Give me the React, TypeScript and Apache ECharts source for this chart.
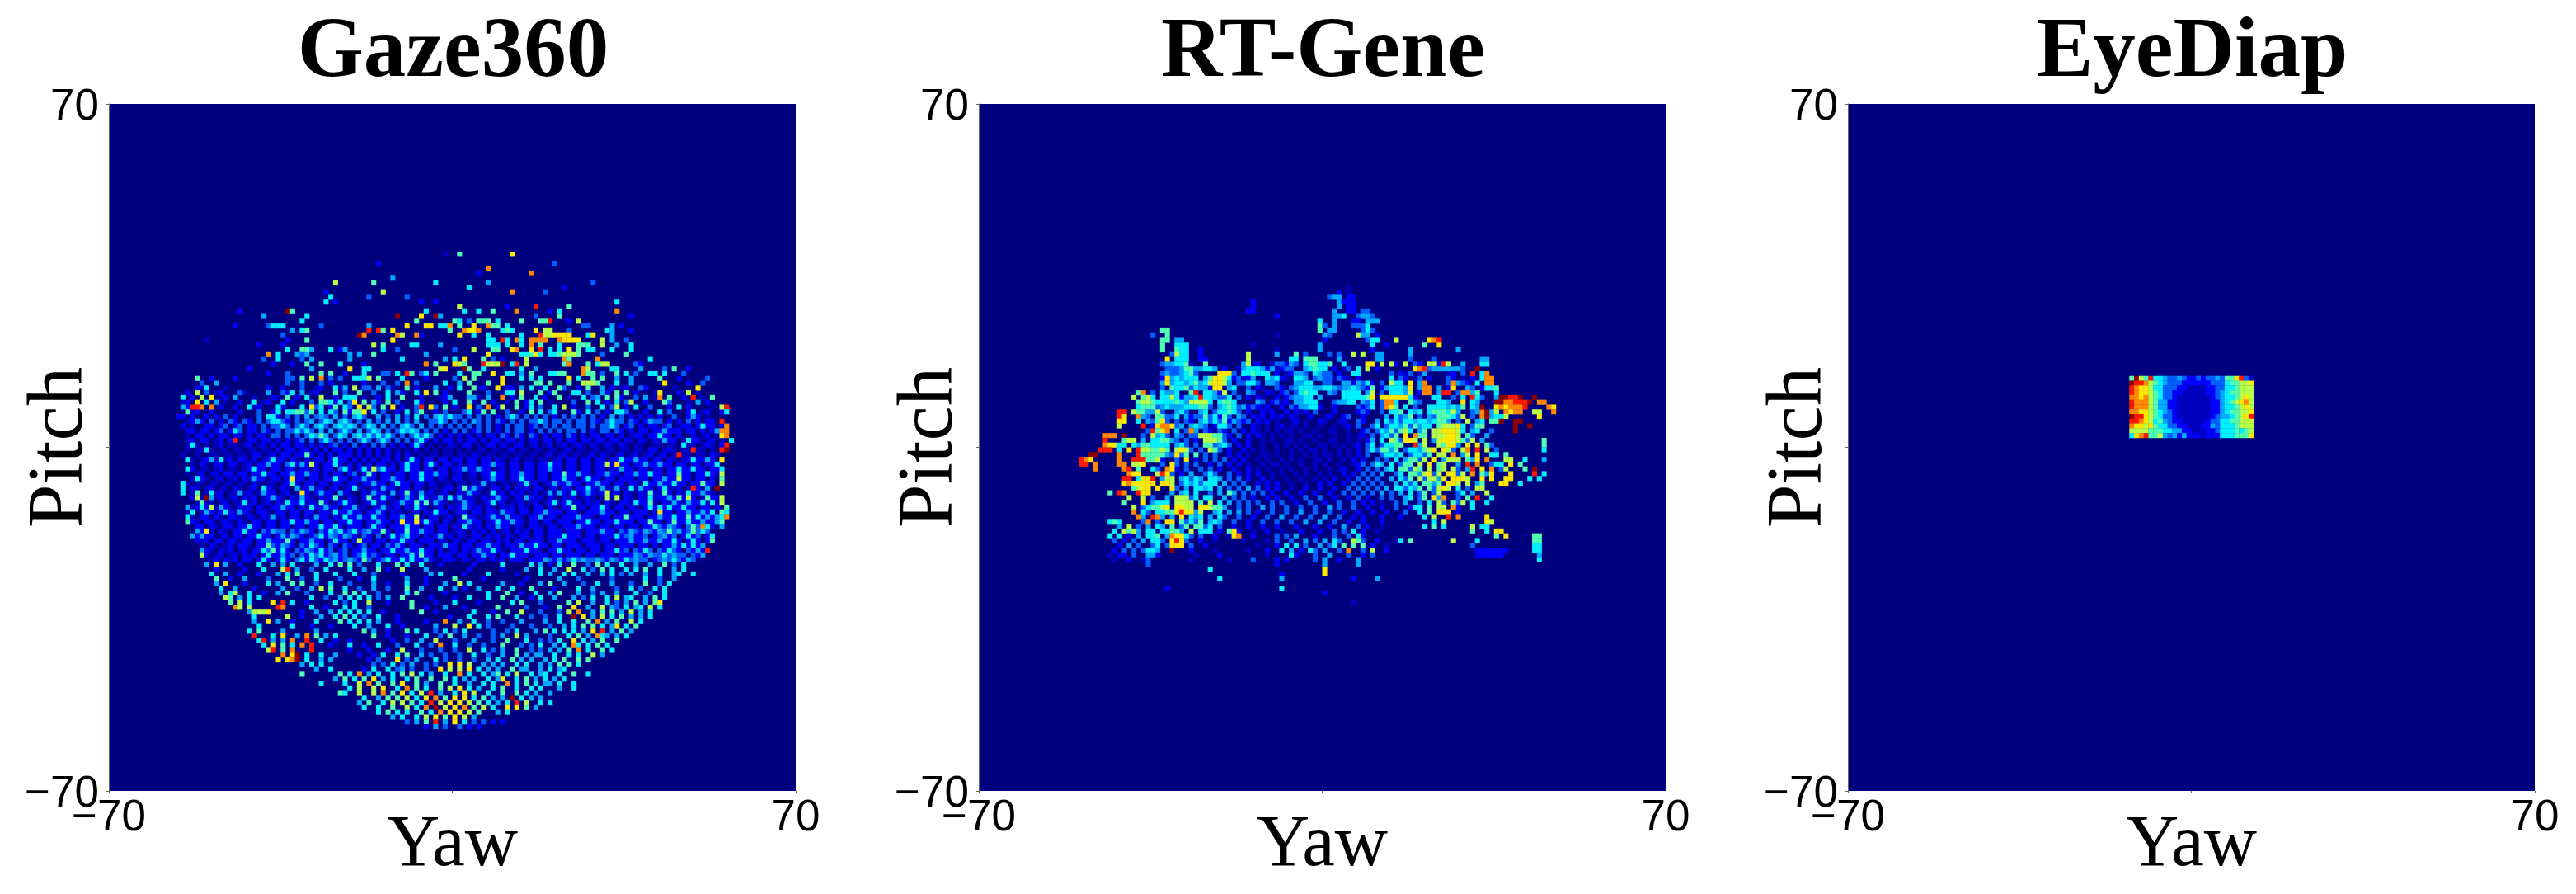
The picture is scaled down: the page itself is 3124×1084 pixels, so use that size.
import React, { useEffect, useRef } from "react";
import * as echarts from "echarts";

const titles = ["Gaze360", "RT-Gene", "EyeDiap"];
const BINS = 144;
const lefts = [132, 1187, 2241];
const sizeW = 833;
const top = 126;
const jet = ["#00007f","#0000c0","#0000ff","#0060ff","#00a8ff","#00f0ff","#50ffb0","#b8ff48","#ffe800","#ff8800","#ff1800","#8c0000"];

// Level per bin: "row|col:levels col:levels"
// (0 = empty, 1..9,a,b = jet steps). The outline and bright cells follow the zoomed crops; the dense
// dim blue texture in the *Base lists is an approximation of each region, not a cell-exact reading.
const eyeDiapRows = [
  "57|59:6b76a554334322323343668a31",
  "58|59:baa97654333222222333566778",
  "59|59:a9887553332211112233556777",
  "60|59:a9887653322111112234566777",
  "61|59:99897653321111111234556787",
  "62|59:a9997644221111111224567897",
  "63|59:a9997644221111111224556787",
  "64|59:99887654321111111224566778",
  "65|59:baa8765332111111123445678a",
  "66|59:aa987564322111112335566777",
  "67|59:98878655332211122435556777",
  "68|59:77776665544221112235556567",
  "69|59:589a6674342422212225556668",
];

const rtGeneBase = [
  "54|55:20120013021 70:3203 84:2012010320102",
  "55|40:3012 48:2102 54:1 60:201203 74:2013020102 94:301203",
  "56|38:30124 50:2013 56:2 62:20121030120102 86:302130120 98:1203",
  "57|38:2034 44:30 52:323124 60:32021 68:3 72:20132102 88:3201302 98:320102",
  "58|38:403 42:2 54:320 58:2 62:3 66:3 68:4 72:33 78:24302 84:3 92:42 98:3 100:4320",
  "59|38:3023 44:3 48:2 52:43 56:3021 62:32 68:4 76:2 79:432 84:24 92:43 96:4023 102:4302",
  "60|36:30 40:2 44:3 49:42 53:3 56:43 60:2102 64:3 73:43 81:4 84:30 89:3 92:2 96:4 100:3 103:40",
  "61|36:3 42:24 51:34 54:302 58:21 62:202 65:3 71:4 84:3 90:42 96:4 99:30 105:3 108:4",
  "62|44:2 48:4 58:4302 62:3120 70:3 74:3 80:43 84:30 91:43 98:40 104:4",
  "63|37:3 42:4 48:3 54:342 57:32120 63:2 65:323 71:2 74:2 79:323 84:30 91:3 98:4 100:4 104:4",
  "64|36:4 38:30 41:4 43:30 49:3 54:3 56:2 59:212 64:2 66:212 70:3 74:2 79:232 84:3 87:4 91:4 100:4 103:343 107:4",
  "65|35:3 40:3 43:423 46:32 48:3 50:2 52:3 54:43 57:212 61:2120 65:21 69:2 72:12 76:23 80:2 85:4 88:34 92:3 94:43 100:34 103:3 107:4",
  "66|35:43 39:3 41:3 43:32 46:4 48:3 50:3 52:24 54:323 58:212 62:10 65:12 68:1 71:21 75:12 79:32 83:4 86:3 88:3 91:4 94:4 98:4 100:3 104:4",
  "67|36:2 41:34 44:4 47:3 49:2 52:3 54:3 57:21 60:1 62:12 65:11 68:10 71:1 74:1 76:12 79:3 82:3 85:3 88:4 90:3 92:4 100:3 103:3",
  "68|35:32 43:3 45:4 47:32 50:32 53:3 55:2 57:21 60:1 62:1 64:11 67:1 70:1 73:11 77:1 80:23 83:3 85:4 87:3 92:4 101:3 103:4 107:3",
  "69|34:3 37:4 39:3 41:43 44:3 45:3 51:32 54:3 56:2 58:21 61:1 63:1 65:1 68:11 71:1 74:1 77:1 79:12 82:3 84:4 86:3 92:3 100:4 103:3 106:4",
  "70|34:4 40:43 43:3 45:2 51:3 53:2 56:2 59:1 61:1 64:11 67:1 70:1 73:11 77:1 79:1 81:23 86:4 88:3 95:4 102:3 105:4",
  "71|33:4 41:4 43:3 45:3 49:3 52:3 54:2 56:2 59:1 62:1 64:1 66:1 68:1 71:11 74:1 76:1 78:12 81:3 84:3 92:4 100:4 107:3",
  "72|39:3 44:3 46:3 50:3 52:2 55:2 57:1 59:1 62:1 65:1 67:1 69:11 72:1 75:1 77:1 79:2 81:3 83:3 86:4 89:3 92:4 99:3 108:3",
  "73|39:4 40:3 42:3 47:3 49:3 52:2 54:2 56:1 59:11 62:1 65:1 68:1 70:1 72:11 75:1 77:1 79:2 81:3 84:3 87:4 90:3 93:3 101:4",
  "74|38:2 41:3 43:3 45:2 47:3 49:3 51:3 53:2 55:2 58:1 60:1 63:1 65:1 67:1 70:11 73:1 76:1 78:2 80:2 83:3 85:3 89:4 92:3 97:4 100:3 103:4",
  "75|38:3 41:3 43:3 45:3 48:2 50:3 52:2 54:2 56:1 59:1 61:11 64:1 67:1 70:1 72:1 75:1 78:12 80:3 82:3 84:4 88:3 100:4 107:3",
  "76|37:3 41:2 43:3 46:3 48:3 50:2 53:2 56:2 58:1 60:1 63:1 65:1 68:1 70:1 73:1 75:12 79:2 81:3 83:3 85:4 90:3 100:3 102:4 109:3",
  "77|40:3 42:2 44:4 47:3 49:3 52:3 54:2 56:2 58:2 61:1 63:1 66:1 68:1 71:1 73:1 76:2 78:2 80:3 82:3 84:4 87:3 92:4 95:3 100:3 106:4",
  "78|40:3 42:4 44:3 46:4 50:4 52:3 54:3 56:2 59:2 61:1 64:1 67:1 70:1 72:1 74:2 77:2 79:3 81:3 83:3 86:4 89:3 93:3 96:4 101:3",
  "79|40:4 42:3 44:4 46:3 51:4 53:3 55:3 58:2 60:2 62:2 65:1 68:1 71:2 73:2 76:2 78:3 80:3 82:3 84:3 87:4 90:3 95:4 100:3 104:4",
  "80|41:3 43:4 47:4 50:4 52:3 54:3 56:4 58:3 60:2 62:2 65:1 68:2 71:2 74:2 77:3 79:3 81:3 83:3 85:4 89:3 91:4 95:3 102:3",
  "81|40:4 42:4 48:3 50:4 53:4 55:3 57:3 59:3 61:2 64:2 67:2 70:2 73:2 76:3 78:3 80:3 82:3 84:4 86:3 88:4 92:3 95:3 100:3 103:4",
  "82|36:3 39:4 44:3 51:4 53:3 55:3 57:2 60:2 62:2 65:2 68:3 71:3 74:2 77:2 79:3 81:2 84:3 86:3 89:4 92:3 96:4 100:3",
  "83|36:4 38:5 44:4 52:4 54:3 56:3 58:3 61:3 63:3 66:2 69:3 72:2 75:3 78:3 80:2 82:2 84:1 87:3 89:4 92:3 97:3 100:3",
  "84|34:3 37:4 44:5 51:4 54:3 56:3 59:4 61:3 64:3 67:3 70:3 73:4 75:3 78:3 81:2 84:2 87:3 90:2 100:2",
  "85|35:3 37:4 45:4 49:4 52:4 54:4 56:3 58:2 61:3 64:3 67:4 70:3 73:3 76:2 79:2 82:2 85:2 89:3 100:2",
  "86|34:4 38:4 40:4 45:4 48:4 51:3 54:3 57:2 60:3 63:4 66:3 69:3 72:4 75:3 78:2 80:2 84:2 88:2",
  "87|34:3 37:3 40:4 43:3 45:3 48:4 50:4 53:3 56:2 59:3 62:3 65:3 68:4 71:4 74:3 77:2 80:2 84:2",
  "88|33:3 35:4 38:4 42:3 47:3 50:3 53:2 56:2 59:2 62:2 66:2 70:2 73:2 76:4 79:3 81:2 84:1",
  "89|31:3 33:4 36:4 42:4 47:3 50:2 54:2 57:1 60:2 63:1 67:2 71:2 74:3 76:3 80:2 83:1",
  "90|31:2 33:4 36:3 39:4 44:3 46:3 49:2 52:1 57:2 62:3 64:3 66:4 70:2 74:3 77:3 80:2",
  "91|30:2 32:3 34:4 38:3 43:3 46:2 49:1 55:1 60:1 62:3 65:3 68:4 70:3 75:3 80:3 83:2 87:1",
  "92|29:2 31:4 33:4 36:3 39:3 44:3 47:2 58:1 62:2 68:3 71:4 73:3 82:2 85:1",
  "93|28:2 30:3 32:3 34:3 37:4 44:2 49:1 56:1 60:2 67:2 70:3 75:3 80:3 85:2",
  "94|27:1 29:2 32:3 37:2 45:1 50:2 60:1 66:2 70:3 77:3 80:2",
  "95|28:1 31:2 34:1 44:1 52:1 64:2 70:3 75:2",
];

const rtGeneRows = [
  "38|77:1","39|75:2 77:1","40|73:344 77:22","41|57:2 75:4 76:222","42|57:2 75:4 77:22",
  "43|56:22 74:4 77:22 80:33","44|62:2 74:44 76:5 79:344 82:3","45|71:5 74:4 78:22 81:44 83:4",
  "46|71:6 72:3 74:4 78:3335 81:5","47|38:66 71:6 73:44 80:3 81:5 82:3","48|36:3 39:6 62:1 72:43 79:7 80:44 83:2",
  "49|38:66 41:44 72:2 81:3 82:55 87:7 94:89a","50|38:6 41:555 57:1 71:4 82:5 85:2 93:6 96:8","51|38:6 41:655 46:2 62:1 71:4 82:2 90:4 100:4",
  "52|40:3755 46:2 56:7 62:4 66:6 68:3 73:3 75:3 78:7 80:7 83:44 90:4",
  "53|39:8 41:555 46:22 56:7 65:55 68:666 75:4 83:44 90:3 95:3 105:44",
  "54|38:3445561 47:6 55:47 62:33 65:43 68:56 70:6556 76:5 81:88 84:7 86:7 89:7 94:77 97:a7 101:4 105:55",
  "55|39:33346644554 55:45554 61:4 64:3 68:45 70:655 79:5 81:7 91:89a 95:4444443 104:b",
  "56|39:4334563 50:888 55:556555 66:44 70:5433 78:55 93:4 103:a 105:5 106:9",
  "57|39:8454555 47:468875 60:545 66:554 70:3433 86:5 105:5 106:99",
  "58|39:84554564578874 55:3553 60:44 66:4455 76:44 81:5 86:755 90:8 93:9 99:9 104:5 106:99",
  "59|40:65563 45:544 49:88 53:5 65:34555 70:445543 76:445 82:6 86:5554 90:8 93:99 99:8 106:55 108:6",
  "60|33:6 34:9 38:5445 44:6 45:a 47:55 51:7 66:35655 76:5555 82:7 86:5554 90:7 93:99 97:aa 101:99 104:6 108:5",
  "61|32:7 34:675 38:557 41:5 44:45a 47:5543 52:5 66:4455 76:555556 82:8 84:888888 90:5 95:55 101:5 103:a5 109:bbaab 116:b",
  "62|33:67765 38:555654 44:7 45:7775 50:566 53:5 66:44555 75:4455 82:5 85:99 87:5 90:6 96:55 101:8 103:5 108:bb 110:99aaa 115:b 117:99",
  "63|33:56663 38:4544 43:55 45:566 50:4565 67:4455 82:5 85:98 87:6 89:5 94:5555 99:5 101:6 103:5 105:b 108:89899 113:9a 119:98",
  "64|29:aa 32:7664 37:7 42:5 46:45 50:5565 86:55 88:6 90:5 92:5 94:56665 99:7 105:9b 108:7 110:9899 116:77 120:9",
  "65|29:a8 33:94 37:663 41:5 47:6 49:5 51:6 87:5 90:6 96:6665 101:7 105:9 106:b 108:55 110:7 117:8",
  "66|29:88 33:5 37:68 47:5 49:5 51:6 85:5 87:5 89:55 92:55 95:566 102:7 105:5 107:66 109:b 112:bb",
  "67|29:7 34:a 37:8998 45:54 50:55 83:5 86:55 89:6 91:6 93:55 96:67778 101:5 104:66 112:b 115:b",
  "68|36:a6 38:89 41:5 44:9 84:5 86:6 88:67 90:5 93:6 95:778887 101:5 104:5 112:b",
  "69|26:999 30:b 36:7 38:5 46:77766 85:5 87:6 89:8 91:96 93:6 95:777887 102:6",
  "70|26:a 30:677 36:5566 47:7776 82:4 84:5 86:76 89:88 91:7 93:7 96:788876 103:7 118:6",
  "71|26:988 29:55 32:5 34:665555 42:5 47:66 50:45 82:5 85:55 87:66 91:a 93:7 96:7688 102:8 104:8 106:6 118:6",
  "72|25:aaa 29:5 31:8 33:a 34:776676 41:787 48:76 82:5 84:66 87:6 90:55 93:67 95:8 97:87 101:79 104:a 106:7 118:5",
  "73|23:bb 29:9 33:a 34:66666 41:8 43:6 45:6 85:55 88:5 91:55 94:6 96:77 99:9 102:7 104:8 107:55 110:6",
  "74|21:a98 29:9 32:aaa 35:667 43:8 87:5 90:66 93:7 95:8 98:777 102:6 104:8 106:9 110:7 111:7 114:5 118:4",
  "75|21:aa 24:9 29:99 32:778 40:8 83:5 86:5 89:66 92:7 94:8 96:67 102:a 104:9 108:55 111:8 113:6",
  "76|24:9 30:9a 33:6 36:5 39:98 86:5 88:66 91:76 94:7 96:67 99:7 103:a 105:8 107:9 110:7 114:6 116:b",
  "77|31:988 37:7 38:a8 48:5 88:5 90:66 93:78 96:7 98:88 101:7 103:9 105:6 107:8 111:8 116:a 118:5",
  "78|30:aa 33:5 34:88 36:a 38:477 43:5 45:5 48:55 88:5 90:6 92:7 94:77 97:8 99:888 102:7 105:8 107:8 110:88 115:5 117:5",
  "79|30:8988888 38:887 43:5 45:5 47:555 89:5 91:5 93:66 96:6 98:887 102:7 105:6 109:88 113:5",
  "80|32:6788 37:8 40:8 45:55 48:5 87:55 90:5 92:6 94:6 96:78 98:7 100:5 104:77",
  "81|27:6 29:a9 33:a 34:88 43:5 45:5 52:6 90:5 93:6 96:7 101:5 106:7",
  "82|31:7 34:7 41:777 45:5 47:55 90:5 93:6 95:8 97:9 102:6 104:a 107:5",
  "83|30:6 34:8 37:5 39:5 41:7777 46:6 48:7 50:5 94:5 96:7 99:6 101:7 103:5 106:5",
  "84|32:7 35:566 38:78 41:8877 46:88 48:766 91:55 94:6 96:77 99:9 103:5",
  "85|32:9 34:5 37:55 39:66 41:8a8 44:8 46:7 50:5 92:5 94:6 96:88 98:8",
  "86|33:9 36:a9 42:8 44:5 46:5 50:5 93:5 95:7 98:a 100:9 106:8",
  "87|27:565 35:9 39:88 42:6 44:5 46:6 49:5 95:5 97:7 106:8 107:7",
  "88|29:4 31:7 37:5 40:6 43:6 45:66 48:5 93:5 95:6 97:5 103:7 105:55",
  "89|28:5 30:767 35:55 38:5566 44:7 46:55 48:5 52:6 53:8 78:5 103:6 106:5 108:8 109:8",
  "90|27:5 29:5 35:55 37:6 40:988 43:5 53:8 54:9 79:5 108:6 110:8 116:66",
  "91|28:3 36:55 40:8a8 72:4 74:5 78:7 79:6 88:5 90:6 99:7 104:5 116:6 117:6",
  "92|33:3 37:5 40:888 64:5 66:5 74:5 76:6 78:6 80:6 103:3 116:5 117:5",
  "93|35:55 40:b 63:5 65:4 69:5 72:4 77:9 82:7 104:2222222 116:5 117:5",
  "94|30:2 35:44 65:5 73:4 82:3 104:222222 117:4",
  "95|35:3 57:3 62:2 72:4 79:4 117:5","96|35:3 62:2 72:4 79:4","97|48:5 72:8","98|63:2 72:8",
  "99|50:5 63:4 78:2 83:4","101|39:2 63:5","102|72:2","104|78:1",
];

const gazeBase = [
  "59|18:21 24:1 43:12 48:1 59:1 62:1 71:1 77:1 90:12 95:3 98:2 105:2 107:12 112:2 118:1",
  "60|16:2 22:12 28:1 37:2 42:12 49:1 61:2 66:1 75:1 82:1 92:2 98:3 104:2 110:2 114:1 119:2 123:1",
  "61|15:1 17:2 23:12 30:1 35:1 39:2 47:2 53:1 56:2 65:2 69:12 77:1 84:2 91:2 96:1 101:3 107:2 110:3 114:12 120:2 124:1",
  "62|15:12 24:1 27:2 32:12 38:2 42:3 47:2 50:3 56:2 60:3 65:2 70:2 76:1 80:2 83:1 87:2 92:1 97:3 104:2 108:3 112:2 117:3 121:1 125:2",
  "63|16:2 23:2 26:2 30:12 36:2 43:3 46:2 50:3 55:3 61:2 64:3 68:3 72:2 77:3 81:2 87:2 90:3 97:2 100:3 105:3 108:2 113:3 117:2 121:2 126:1",
  "64|17:12 21:2 27:2 31:3 34:2 41:3 47:3 50:2 55:3 57:3 60:2 64:3 68:2 70:3 74:3 77:2 83:3 86:2 92:3 98:2 102:3 104:2 108:3 112:2 117:3 121:2 124:12 128:2",
  "65|15:2 17:2 20:2 22:2 24:3 26:2 31:3 35:2 37:3 39:3 41:4 43:3 45:3 47:4 49:3 51:4 53:3 56:4 58:3 60:4 62:3 66:3 68:4 70:3 72:3 73:3 75:3 77:3 79:3 81:2 83:3 85:3 87:3 89:3 91:3 93:2 95:3 97:3 99:3 101:3 103:2 105:3 107:3 109:2 111:2 113:2 115:2 118:3 121:2 123:2 125:1",
  "66|16:12 19:2 21:3 23:2 25:3 26:2 28:3 29:2 31:3 33:3 36:3 37:2 39:3 41:3 42:4 44:3 46:4 48:4 50:3 52:3 54:4 56:3 58:4 60:4 62:3 64:4 67:3 68:3 70:3 72:3 74:3 76:4 77:3 79:3 81:3 82:2 84:3 86:3 88:3 89:3 91:3 93:3 94:3 96:3 98:3 99:3 101:3 102:2 104:3 106:3 107:3 109:3 110:2 112:2 114:3 115:3 117:2 119:2 121:3 123:2 125:2 126:2",
  "67|15:2 17:1 20:2 21:2 23:2 24:3 26:2 27:3 29:2 30:2 32:3 34:3 35:3 37:3 39:3 41:3 43:4 45:3 47:4 49:4 51:4 53:3 55:4 57:4 59:3 61:4 63:3 65:4 67:3 69:3 71:3 73:3 75:3 77:3 79:3 81:2 83:3 85:3 86:3 88:2 89:3 91:3 93:3 95:3 96:3 98:3 99:3 101:3 103:3 104:3 106:3 108:2 109:3 111:2 113:2 114:2 116:2 117:3 119:1 120:2 121:2 123:2 125:2 126:2 128:2",
  "68|16:2 17:2 19:2 20:2 22:2 23:3 25:2 27:3 29:2 30:2 32:3 33:2 35:3 37:3 38:3 40:3 42:3 44:4 46:4 48:3 50:3 52:4 54:3 56:4 58:3 60:3 62:4 64:4 66:3 68:3 70:2 72:3 74:3 76:2 77:3 79:3 81:2 83:3 85:3 86:3 88:2 90:3 92:3 94:3 96:3 97:3 99:3 101:2 103:3 104:3 106:3 107:2 109:2 111:2 112:2 114:2 115:2 117:2 118:2 119:2 121:2 122:2 124:2 126:2",
  "69|16:1 18:2 19:2 21:2 23:2 24:2 26:2 27:2 29:2 31:2 32:2 34:3 35:3 37:3 39:3 41:3 43:4 45:4 47:3 49:4 51:4 53:3 55:3 57:3 59:3 61:3 63:3 65:3 67:3 69:2 71:2 73:2 75:2 77:2 79:2 80:2 82:3 83:2 85:3 86:2 88:3 89:2 91:2 93:2 94:2 96:3 97:2 99:2 101:2 102:2 104:2 105:2 107:2 109:1 110:2 111:2 113:2 114:2 116:2 117:2 119:2 122:2 124:1 125:2 127:1",
  "70|16:1 17:2 19:2 20:2 22:1 23:2 25:2 26:2 29:2 30:2 32:2 33:2 35:2 37:2 39:2 40:3 42:3 44:3 46:3 48:3 50:3 52:3 54:3 56:3 58:3 60:3 62:3 64:3 66:2 68:2 70:2 71:2 73:2 75:2 76:2 78:2 80:2 81:2 83:2 84:2 86:2 88:2 89:2 91:2 92:2 94:2 96:2 97:2 99:2 100:2 102:2 103:2 105:2 106:2 108:2 109:1 111:2 112:1 114:2 115:1 117:2 118:2 120:1 122:2 123:2 125:1 126:2 128:1",
  "71|16:1 18:1 20:1 22:1 23:2 25:1 26:1 28:1 29:2 31:1 32:2 34:2 36:2 37:2 39:2 40:2 42:2 44:2 46:2 47:3 49:2 51:3 53:2 55:3 57:3 59:2 61:2 63:2 65:2 67:1 69:1 71:2 72:1 74:2 75:2 77:1 79:2 80:2 82:2 83:1 85:2 86:2 88:1 89:2 91:1 92:2 94:1 95:2 97:1 98:2 99:1 101:2 102:1 104:2 105:1 107:2 108:1 110:1 111:1 114:1 115:1 117:1 118:1 121:1 122:1 124:1 125:2 126:1 128:2",
  "72|16:1 18:1 19:1 21:1 23:1 24:1 26:1 27:1 29:1 30:1 32:1 33:1 35:2 37:2 38:2 40:2 41:2 43:2 45:2 47:2 48:2 50:2 52:2 54:2 56:2 58:2 60:1 62:1 64:2 66:1 68:1 70:1 71:1 73:1 75:1 77:1 78:1 80:1 81:1 83:1 84:2 86:1 87:1 89:1 90:1 92:1 93:1 95:1 96:2 98:1 99:1 101:1 102:1 104:1 105:1 107:1 108:1 110:1 111:1 113:2 114:2 116:1 117:2 118:1 120:1 121:1 123:1 124:1 126:1",
  "73|15:1 18:1 21:1 22:1 24:1 25:1 27:1 28:1 30:2 31:2 33:1 34:2 36:2 37:2 39:2 40:2 42:2 44:2 46:2 48:2 49:2 50:2 52:2 54:2 56:2 58:2 60:2 62:2 63:1 65:1 67:1 68:1 70:1 71:1 73:1 74:1 76:2 77:1 79:1 80:1 82:1 83:1 85:1 86:1 88:1 89:1 91:1 92:2 94:1 95:2 97:1 98:1 100:1 101:2 103:2 104:1 106:1 107:2 109:1 110:2 112:1 113:2 115:1 116:2 118:1 120:1 121:1 123:1 124:1 126:2 127:1",
  "74|17:1 19:1 20:2 22:1 24:1 25:2 27:2 28:2 30:2 32:1 33:2 35:2 36:2 38:2 39:1 41:2 43:2 44:2 46:2 48:2 49:2 51:2 53:2 55:2 57:2 58:2 60:2 62:2 64:2 66:2 67:2 69:2 70:2 72:2 73:2 75:2 76:2 78:2 79:2 81:2 82:1 84:1 85:2 87:1 88:1 90:1 91:1 93:1 94:2 96:2 97:2 99:2 100:2 102:2 103:2 105:2 106:2 108:2 109:2 111:2 112:2 114:2 115:2 117:2 118:1 120:1 121:2 123:2 124:2 126:2",
  "75|17:1 19:2 20:1 22:2 23:2 25:2 26:2 28:1 29:2 31:2 32:2 34:2 35:2 37:3 39:2 41:2 43:2 45:2 46:2 48:2 50:2 52:2 54:2 56:2 57:2 59:2 61:2 63:2 64:2 66:2 68:2 70:2 71:2 73:2 75:2 76:2 78:2 79:2 81:2 82:2 84:2 85:2 87:2 88:2 90:2 91:2 93:2 94:2 96:2 97:2 99:2 100:2 102:2 103:2 105:2 107:2 108:2 110:2 111:2 113:2 114:2 116:2 117:2 119:2 120:2 122:2 123:2 125:2 126:2",
  "76|17:2 19:1 20:1 22:1 23:2 25:1 26:1 28:1 29:2 31:2 32:2 34:2 35:2 37:2 38:2 40:2 41:2 43:2 45:2 46:2 48:3 50:2 52:2 54:2 56:3 58:2 59:2 61:2 63:2 64:2 66:2 67:2 69:2 70:2 72:2 73:2 75:2 76:2 78:2 79:2 81:1 82:2 84:2 85:2 87:2 88:2 90:2 91:2 93:2 94:2 96:2 97:2 99:2 100:2 102:2 103:2 105:2 106:2 108:2 109:2 111:2 112:2 114:2 115:2 117:2 118:2 120:2 121:2 123:2 124:2 126:2 127:2",
  "77|16:1 18:1 19:2 21:1 22:2 24:2 25:2 27:2 28:2 30:2 31:2 33:2 34:2 36:2 37:2 39:2 40:2 42:2 43:2 45:2 47:2 48:2 50:2 51:3 53:2 55:2 57:2 58:2 60:2 61:2 63:2 64:2 66:2 67:2 69:2 70:2 72:1 73:2 75:1 76:2 78:2 79:2 81:2 82:2 84:2 85:2 87:2 88:2 90:2 91:2 93:2 94:2 96:2 97:2 99:2 100:2 102:2 103:2 105:2 106:2 108:2 109:2 111:2 112:2 114:2 115:2 117:2 118:2 120:2 121:2 123:2 124:2 126:2 127:1",
  "78|17:1 19:2 20:1 22:1 23:2 25:1 26:2 28:2 29:1 31:2 32:2 34:2 35:2 37:2 39:2 40:2 42:2 43:2 45:2 46:2 48:2 49:2 51:2 52:2 54:2 55:2 57:2 58:2 60:2 61:2 63:2 64:2 66:2 67:2 69:2 70:1 72:2 73:2 75:1 76:1 78:1 79:2 81:2 82:2 84:2 85:2 87:2 88:2 90:2 91:2 93:2 94:2 96:2 97:2 99:2 101:2 102:2 104:2 105:2 107:2 108:2 109:2 111:2 112:2 114:2 115:2 117:2 118:2 120:2 121:2 123:2 124:2 126:2",
  "79|16:1 18:1 19:1 21:1 22:1 24:1 25:1 27:1 28:1 30:2 31:1 33:1 34:1 36:1 37:2 39:2 41:2 42:2 44:2 45:2 47:2 48:2 50:2 51:2 53:2 54:2 56:2 57:2 59:2 61:2 62:2 64:2 65:2 67:2 68:1 70:1 71:1 73:1 74:1 76:1 77:1 79:1 80:1 82:1 83:1 85:1 86:2 88:1 89:2 91:1 92:2 94:2 95:2 97:2 98:2 100:2 101:2 103:2 104:2 106:2 107:2 109:2 110:2 113:2 114:2 116:2 117:2 119:2 120:2 122:2 123:2 125:2 126:2",
  "80|17:2 18:1 20:1 21:2 23:1 24:1 26:2 27:1 29:1 30:2 33:2 34:1 36:2 37:1 40:1 41:2 43:1 44:2 46:1 47:2 49:1 50:2 52:1 53:1 55:2 56:1 58:2 59:2 61:2 62:2 64:2 65:1 67:1 68:1 70:2 71:2 73:2 75:2 77:2 78:1 80:2 81:2 83:2 85:2 86:1 87:2 89:2 90:2 92:1 93:2 95:2 96:2 98:2 99:2 101:2 102:1 104:1 105:1 107:1 108:1 110:1 112:2 113:2 115:2 117:1 118:1 119:2 121:1 123:2 124:1",
  "81|17:1 20:1 22:1 23:2 25:1 26:1 28:1 29:2 31:1 33:2 34:2 36:1 37:2 39:1 41:2 43:2 45:2 46:2 49:2 50:1 53:2 54:1 56:2 57:2 60:1 61:2 63:2 64:1 66:1 67:2 69:1 70:2 73:2 74:1 76:2 77:1 79:1 81:1 82:2 84:2 85:1 86:2 88:1 89:2 91:1 93:1 95:2 96:1 98:1 99:2 101:2 102:1 103:2 105:1 106:2 108:2 109:1 111:2 112:1 114:2 115:1 117:2 119:2 120:1 122:2 123:2 125:2 126:1",
  "82|17:2 19:1 22:1 23:2 25:1 26:2 28:2 29:1 30:2 32:1 33:2 35:2 36:1 38:2 39:1 41:2 42:1 44:2 45:1 46:2 48:1 50:2 51:1 53:2 55:1 56:2 58:2 59:1 61:2 63:2 64:1 66:2 67:1 68:2 70:1 72:2 74:1 75:2 76:1 78:2 79:1 80:2 82:2 83:1 85:2 86:1 88:2 89:1 90:2 92:2 93:1 95:2 96:1 97:2 99:1 100:2 101:1 103:1 105:1 108:2 109:1 111:2 112:1 114:1 115:2 116:2 118:2 120:2 122:2 124:1 126:2 127:2",
  "83|18:1 20:1 21:1 23:1 24:2 26:1 27:1 29:1 30:2 32:1 33:2 35:2 36:1 38:2 39:2 41:1 42:2 43:1 45:2 47:1 48:2 50:2 51:1 53:1 54:2 56:1 57:2 59:1 60:2 62:2 63:2 65:2 67:1 69:2 70:1 72:1 73:1 75:2 76:1 78:1 79:2 81:1 82:2 84:1 85:1 86:2 88:1 89:2 91:1 92:2 94:1 95:2 97:1 98:2 100:2 101:1 102:2 104:2 105:1 107:2 108:2 109:1 111:2 112:2 114:1 116:2 117:1 119:2 120:1 122:2 123:2 125:1 127:1",
  "84|17:1 18:2 20:2 22:1 24:2 25:1 27:2 28:1 29:2 31:2 32:1 34:2 35:2 37:2 38:2 40:2 41:1 43:2 44:2 46:2 47:2 49:2 50:2 52:1 53:1 55:1 56:2 58:1 59:1 60:2 62:2 63:1 65:2 66:1 68:1 69:2 71:2 72:1 73:2 75:2 76:1 77:2 79:2 80:1 82:2 83:1 84:2 86:2 87:1 89:2 90:2 92:2 93:1 95:2 96:2 98:1 99:2 101:2 102:2 104:2 106:2 107:2 109:2 110:1 112:2 114:2 116:2 118:2 119:2 121:2 122:2 124:2 125:2 127:2",
  "85|16:1 19:1 21:2 22:1 23:2 25:2 26:1 28:2 29:1 31:2 32:2 33:1 35:2 36:2 38:2 39:2 41:2 42:2 44:2 45:2 46:1 48:2 49:2 51:2 52:2 54:2 55:2 57:2 59:2 60:1 61:1 63:1 64:2 66:2 67:1 69:2 70:2 72:1 73:2 74:2 76:2 77:2 79:2 80:2 81:1 83:2 84:2 86:2 87:2 89:2 90:2 92:2 93:2 94:2 96:2 97:2 98:1 100:2 101:2 102:2 104:2 105:2 107:2 108:2 110:2 111:2 112:2 114:2 116:2 117:2 119:2 120:2 122:2 123:2 125:2",
  "86|17:1 19:2 20:2 22:2 23:1 25:2 26:2 27:1 29:2 30:1 32:2 33:1 35:1 36:2 38:2 39:2 41:2 42:1 44:2 45:2 47:2 48:1 50:2 51:2 53:2 54:2 56:2 57:2 59:2 60:2 62:2 63:2 65:1 67:2 68:2 70:1 71:2 73:1 75:2 76:2 78:1 79:2 81:2 82:1 84:2 85:2 86:1 88:2 89:2 91:1 92:2 93:2 95:2 96:2 97:2 99:2 100:2 101:1 103:2 104:2 106:2 107:2 109:2 110:2 111:2 113:2 114:2 116:2 117:2 119:2 120:2 122:2 124:2 126:2",
  "87|17:2 18:1 20:2 21:2 23:1 24:2 25:1 27:2 28:1 30:2 31:2 33:2 34:2 36:2 37:2 39:2 40:2 42:2 43:2 45:2 46:2 48:2 49:2 51:2 52:2 54:2 55:2 57:2 58:2 60:2 62:2 63:2 65:2 67:2 68:1 70:2 71:1 73:2 74:2 76:2 77:2 79:1 80:2 82:2 83:2 85:2 86:2 88:2 89:2 91:2 92:2 94:2 95:2 96:2 98:2 99:2 101:2 102:2 104:2 105:2 107:2 108:2 109:2 111:2 112:2 114:2 115:2 117:2 119:2 120:2 122:2 123:2 125:2 126:2",
  "88|18:2 19:2 21:2 22:1 24:2 25:2 27:2 28:2 30:2 31:2 33:2 34:2 36:2 37:2 39:2 40:2 42:2 43:2 45:2 46:2 48:2 50:2 51:2 52:2 54:2 56:2 57:2 59:2 60:2 61:2 63:2 64:2 66:2 67:2 69:2 70:2 72:2 73:1 75:2 76:1 77:2 79:2 80:1 82:2 83:2 85:2 86:1 88:2 89:2 90:1 92:2 93:2 95:2 96:2 97:2 99:2 100:2 101:2 103:2 104:2 106:2 107:2 109:2 110:2 112:2 113:2 115:3 116:2 118:3 119:2 121:3 123:3 124:2 126:2",
  "89|18:1 19:2 21:1 23:2 24:1 26:2 27:2 29:2 30:2 32:3 33:2 35:3 36:3 38:3 39:2 41:3 42:2 44:3 45:2 47:3 49:2 50:3 52:2 53:3 55:2 56:2 58:2 60:2 61:2 63:2 64:2 66:2 67:2 69:2 70:2 72:1 73:2 74:1 76:2 77:1 78:2 80:2 82:1 83:2 85:2 86:1 87:2 89:2 90:2 92:2 93:2 94:2 96:2 97:2 98:2 100:2 101:2 102:2 104:2 105:2 107:3 108:2 110:3 111:2 113:3 114:2 116:3 118:3 120:2 121:3 123:3 125:3",
  "90|18:2 20:2 21:2 23:1 24:2 26:2 27:2 29:2 30:2 32:2 33:2 35:2 37:2 39:3 40:2 42:2 43:3 45:2 47:3 48:2 50:3 51:2 53:3 54:2 56:3 58:2 60:2 61:3 63:2 64:2 66:2 67:1 68:2 70:1 71:2 73:2 74:1 76:2 77:2 79:2 80:1 81:2 83:2 84:1 86:2 87:2 89:2 90:2 92:2 93:2 94:2 96:2 97:2 98:2 100:2 101:2 103:2 104:2 105:2 107:2 108:3 110:2 111:2 112:3 114:2 115:3 117:2 118:3 120:2 122:2 123:3 125:2",
  "91|18:2 19:1 20:2 22:2 23:2 25:2 26:2 28:2 29:2 31:2 32:2 34:2 35:2 36:2 38:2 40:2 41:2 43:2 44:2 46:2 48:2 49:2 51:2 53:2 54:2 56:2 57:2 59:2 60:2 62:2 63:2 65:2 66:2 67:2 69:2 70:1 72:2 73:1 75:2 76:2 78:2 79:2 81:2 82:1 83:2 85:2 86:2 88:2 89:2 90:2 92:2 93:2 95:2 96:2 97:2 99:2 100:2 101:2 103:2 104:2 106:2 107:2 108:2 110:2 111:2 113:2 114:2 116:2 117:2 119:2 121:2 123:2 125:2",
  "92|19:1 21:2 22:1 24:1 25:2 27:2 28:2 29:1 31:2 32:2 34:3 35:2 37:3 38:2 40:3 41:2 43:3 44:2 46:3 47:2 49:3 50:2 52:2 53:3 55:2 56:2 58:3 59:2 61:2 63:2 64:2 65:1 67:2 68:2 69:1 71:2 72:2 74:2 75:2 77:2 78:2 80:2 81:2 83:2 84:2 85:1 87:2 88:2 90:2 91:2 93:2 94:2 96:2 97:2 98:2 100:2 101:2 102:2 104:2 105:2 107:2 108:2 109:2 111:2 112:2 114:2 116:2 117:2 119:2 121:2 123:2",
  "93|19:1 20:2 21:1 23:2 24:1 25:2 27:1 28:2 30:2 31:2 33:3 35:2 37:2 39:3 40:2 42:3 43:2 45:2 46:3 48:2 49:3 51:2 52:2 54:2 55:2 57:2 58:2 60:2 61:2 63:2 64:2 66:2 67:2 69:2 71:1 72:2 74:2 75:1 76:2 78:2 79:2 81:2 82:1 84:2 85:2 86:2 88:2 89:2 90:1 92:2 93:2 95:2 96:2 98:2 99:2 101:2 102:2 104:2 105:2 107:2 108:3 110:3 111:2 113:3 115:3 116:2 118:3 119:2 121:3 122:2 124:2",
  "94|20:2 22:1 23:2 25:1 26:2 28:2 29:1 30:2 32:2 34:2 35:2 37:2 38:3 40:3 41:2 43:3 45:2 46:3 48:2 49:3 51:2 52:3 54:2 55:3 56:2 58:2 59:2 61:2 62:2 64:2 66:2 67:2 69:2 70:2 71:2 73:2 74:2 76:2 77:2 79:2 80:2 82:2 83:2 85:2 86:2 87:2 89:2 90:2 91:2 93:2 94:2 96:2 97:2 98:2 100:2 101:2 103:2 104:2 105:2 107:2 108:2 109:2 111:3 112:2 114:3 115:3 117:3 119:3 120:3 122:3 123:2",
  "95|21:1 22:2 24:2 25:1 26:2 28:2 29:2 31:2 33:2 35:2 37:2 39:3 41:2 43:3 44:2 46:3 48:2 49:3 51:3 52:2 54:3 56:2 57:3 59:2 60:2 62:2 64:2 65:2 67:2 68:1 70:2 71:2 72:1 74:2 75:1 77:2 78:2 80:2 81:1 82:2 84:2 85:2 86:2 88:2 89:2 90:2 92:3 93:2 95:2 96:3 98:3 100:3 101:3 103:3 104:2 106:3 107:2 109:3 111:3 112:3 114:2 115:3 117:3 119:3 120:2 122:3",
];

const gazeRows = [
  "31|70:1 73:6 84:8","33|56:2 93:3","34|79:9","35|77:2 88:9","36|59:4",
  "37|47:7 55:6 68:5 79:4 101:3","38|75:5 95:2","39|45:2 57:7 84:9 91:3","40|46:5 54:3 62:3",
  "41|45:5 47:2 65:2 68:2 106:5","42|73:7 83:2 89:a 96:6","43|27:2 37:b 38:6 66:5 74:5 77:5 80:6 85:9 92:2 94:5 106:9",
  "44|32:4 41:5 60:b 65:8 68:b 69:4 89:3 94:6 109:2","45|40:5 64:6 72:65 75:3 77:666 81:5 86:6 90:66 92:a 96:2 98:7",
  "46|26:2 33:3555 44:3 54:4 62:8 66:88 69:559 73:6 76:8 79:9 80:66 83:5 99:33 105:4 107:2",
  "47|38:4 40:56 54:a 56:a6 59:8 71:6 74:9889 82:565 89:8 91:77 96:3 104:54 109:2",
  "48|36:3 52:b9 60:97 64:92 73:8 76:5 79:5 86:5 90:a77 93:8888 100:58 105:4",
  "49|20:1 37:2 41:6 59:8 79:55 82:a5 85:95 88:9999 94:98888 103:7 105:4 108:3",
  "50|31:2 36:2 55:7 57:6 63:55 69:4 79:555 83:5 86:5 88:9 90:6 94:5 98:666 103:7 106:4 109:5",
  "51|37:5 40:664 46:5 48:24 57:5 60:3 72:3 76:7 80:66 84:89 88:8 90:a 92:5 94:5 96:8 98:6 100:55 105:5 109:5",
  "52|33:9 35:5 39:434 50:4 52:4 55:6 66:4 79:8 86:55685 92:556777 98:6 103:3 108:6",
  "53|32:3 35:5 40:3 42:4 50:4 61:5 70:4 72:5 74:8 78:6 80:3 82:2 87:7 95:96 102:9 113:5",
  "54|34:2 38:2 41:6 44:6 48:5 53:2 66:9 68:6 72:876 78:a777 82:b 84:5 85:a 87:7 95:69 100:6 102:577 110:32",
  "55|29:2 42:4 50:8 53:55 69:78 74:b6 78:5 86:5 89:4 99:97 105:55 111:4 116:3 118:6 121:2",
  "56|33:2 37:3 44:6 46:6 49:2 53:5 57:33 60:5 62:a6 65:3 66:5 68:6 73:5 76:66 80:8 83:55 86:4 88:6 92:55 94:66 99:966 103:3 106:6 108:5 110:3 113:55 116:5 120:3",
  "57|18:6 21:2 26:2 37:33 40:6 42:7 44:9 46:3 48:3 51:555 54:7 56:6 61:5 66:2 72:3 74:7 76:6 82:8 86:5 88:5 90:5 96:8 98:5 101:6 103:6 106:4 109:4 115:6 119:2 125:3",
  "58|19:3 22:4 37:3 40:3 44:3 46:2 53:2 57:3 60:3 62:9 64:3 70:5 73:4 75:6 79:6 82:8 89:66 92:6 96:6 99:777 102:6 106:5 109:4 116:8 121:2 124:3",
  "59|20:5 33:2 36:2 40:3 47:5 49:4 51:7 53:33 56:4 58:3 62:6 64:2 68:4 71:2 73:5 76:6 78:2 81:8 83:22 86:4 88:5 91:5 94:6 100:6 103:4 111:3 123:8",
  "60|18:7 20:3 27:3 33:4 36:3 38:5 40:4 47:6 49:3 52:6 55:3 58:5 60:4 64:5 66:8 68:6 70:2 75:6 79:3 83:55 86:7 90:6 93:6 97:55 100:3 103:4 106:6 108:6 115:8 121:7",
  "61|15:5 19:7 21:8 26:4 34:2 37:6 41:5 44:7 49:55 51:5 58:5 61:6 71:4 75:44 79:4 82:9 86:6 89:5 94:6 99:5 102:4 104:6 106:6 112:4 115:9 117:6 122:a 126:6",
  "62|18:8 20:5 22:4 30:5 36:5 44:66 46:5 48:5 51:8 53:6 55:4 58:6 64:5 72:5 75:6 78:6 85:6 88:5 90:6 100:6 102:5 106:5 109:7 116:6 123:4",
  "63|15:4 17:aa 19:9 21:9 29:5 35:5 40:5 42:8 44:5 47:6 49:5 52:8 54:7 57:6 59:8 65:a 67:8 70:6 75:8 79:9 82:7 85:6 88:5 93:5 95:7 103:5 106:7 110:5 119:5 128:7 129:a",
  "64|16:6 35:5 37:55 39:66 42:6 44:5 46:5 49:6 51:66 53:8 55:5 62:5 65:6 75:5 78:6 80:6 88:6 90:5 93:5 97:6 100:5 106:55 115:5 122:5 129:5",
  "65|14:2 33:55 44:4 52:5 64:5 69:5 71:5 84:5 105:4 122:4",
  "66|18:4 34:55 45:5 49:5 69:5 90:5 105:5 113:4 128:a",
  "67|36:5 40:5 44:5 48:5 50:5 54:5 62:5 105:5 124:5 129:9",
  "68|26:5 39:5 41:5 49:5 55:5 61:5 63:5 116:4 127:4 128:9 129:9",
  "69|42:5 44:6 48:5 52:5 54:5 56:5 58:5 64:5 66:5 115:5 128:8 129:9",
  "70|26:a 45:5 53:5 57:5 65:5 116:4 121:5 130:5",
  "71|17:5 64:5 120:5 129:a","72|20:5 122:a 128:a 129:b","73|41:6 119:a",
  "74|16:5 21:4 23:5 34:5 47:5 63:5 107:5 110:4 122:5 125:4 128:8",
  "75|33:4 38:5 40:4 42:7 47:5 62:5 67:5 80:4 92:5 104:7 106:8 112:4 115:4 127:5",
  "76|16:5 30:5 49:5 53:5 55:7 57:5 62:5 74:4 77:4 92:4 107:4 119:5 122:5 128:5",
  "77|32:5 38:4 41:4 54:6 65:5 68:4 80:5 86:4 95:6 98:4 104:4 110:4 113:5 119:6 125:5 128:7",
  "78|18:5 30:4 38:8 47:5 53:4 59:4 65:5 80:4 86:5 95:5 100:5 116:4 119:7 128:6",
  "79|15:5 38:6 55:4 60:5 78:4 87:5 93:4 96:4 102:4 112:5 115:4 118:5 124:6 128:7",
  "80|15:5 32:5 39:4 42:4 51:5 57:4 74:6 76:4 100:5 103:4 106:4 109:5 111:4 116:5 122:a 125:4 127:b",
  "81|15:5 18:6 21:5 27:4 32:4 40:8 44:4 48:4 55:4 59:4 62:6 65:4 75:4 80:5 92:4 94:4 97:5 100:4 104:7 113:6 116:6 121:5 124:4",
  "82|18:7 20:b 21:4 34:4 40:4 47:6 54:6 57:5 62:4 65:5 69:4 71:5 73:4 81:4 87:4 104:7 106:7 113:5 117:4 119:6 121:7 125:6 128:7",
  "83|19:6 28:5 37:5 40:5 44:6 49:5 55:5 61:4 64:6 66:6 68:4 74:4 80:5 93:5 96:5 110:5 113:6 118:4 121:4 124:5 126:5 128:7",
  "84|16:4 19:5 21:7 23:4 36:4 42:5 45:4 51:4 57:4 64:5 74:4 97:6 103:5 113:5 115:5 117:5 120:5 129:6",
  "85|17:5 20:4 24:5 27:4 47:5 50:4 56:4 68:5 82:4 91:4 103:4 115:8 121:4 124:4 126:5 128:6 129:5",
  "86|16:5 34:4 43:4 49:5 52:4 55:5 61:4 64:7 74:6 80:4 83:4 90:4 98:4 108:6 115:4 118:5 121:6 123:5 125:4 127:4 128:5 129:9",
  "87|16:6 38:5 41:4 50:5 56:4 61:8 64:8 66:5 75:4 81:5 84:4 100:5 106:5 113:6 118:6 121:5 124:4 127:4 128:6",
  "88|29:5 44:5 47:5 55:5 62:5 74:5 81:4 98:4 114:5 117:4 122:6 124:9 125:5 128:4",
  "89|18:4 20:8 28:5 34:4 40:4 46:5 48:5 51:5 54:4 57:6 62:6 65:4 103:4 109:4 112:4 115:4 117:6 119:4 122:6 124:5",
  "90|17:4 19:4 31:5 36:4 38:4 44:5 46:4 49:4 59:5 62:5 69:4 95:5 106:5 109:4 116:4 121:5 126:5",
  "91|33:4 37:6 42:4 47:5 52:7 61:5 94:4 109:4 112:4 115:4 118:5 122:5 126:6",
  "92|33:6 36:4 42:5 60:4 70:4 79:4 86:4 89:5 118:4 120:5 122:5 124:4",
  "93|19:4 32:5 34:6 36:5 41:4 44:5 53:4 59:5 62:4 65:5 77:4 80:5 87:5 94:5 106:5 112:5 117:5 123:4 125:a",
  "94|19:7 33:5 36:4 42:5 44:5 47:4 53:5 63:5 65:6 78:4 84:5 110:4 113:4 116:5 118:4 124:4",
  "95|32:5 36:5 40:5 42:5 45:5 47:4 50:4 53:6 58:5 61:5 63:5 66:4 91:4 94:4 97:5 99:4 102:4 105:4 108:5 110:4 116:4 118:5 121:4",
  "96|20:4 22:8 24:4 31:5 34:4 36:4 38:5 43:4 46:5 48:6 50:6 56:5 60:6 62:5 65:5 82:5 88:5 90:4 94:5 97:6 102:6 104:5 107:5 110:4 113:4 116:6 120:5 27:2 52:3 69:2 76:2 92:2 100:3 118:3",
  "97|32:5 36:7 37:a 39:4 45:5 50:5 53:4 56:6 61:7 66:4 87:4 90:5 93:4 96:7 99:5 103:6 105:5 108:5 110:5 112:6 115:5 118:4 120:5 22:2 28:2 42:3 58:2 75:2 82:2 101:3",
  "98|21:5 24:4 35:4 37:5 39:6 43:5 47:5 51:5 67:4 69:5 79:5 90:5 92:4 95:5 97:5 100:4 103:4 105:5 109:4 112:4 115:5 118:4 119:5 122:5 27:2 31:2 55:3 61:2 74:2 85:2 107:3",
  "99|22:6 28:4 37:6 43:5 55:5 62:4 72:6 94:4 112:5 118:4 25:2 33:3 40:3 48:3 52:2 66:2 78:2 87:2 98:3 105:3 115:3",
  "100|22:4 24:8 33:5 35:4 38:6 40:6 46:5 55:4 62:5 70:4 73:7 75:5 82:4 90:4 92:6 95:4 102:5 105:4 112:6 117:5 28:2 43:3 50:3 58:2 66:2 86:2 99:3 109:3 115:3",
  "101|23:5 26:4 36:4 42:4 44:7 46:6 49:5 55:4 62:6 65:4 69:5 72:4 77:4 81:5 84:5 88:6 98:5 101:4 109:5 114:5 116:5 30:2 39:3 52:3 58:3 74:2 93:2 106:3 111:3",
  "102|23:4 25:5 26:7 29:5 35:4 37:6 46:5 49:6 51:6 53:5 62:5 64:6 79:5 83:6 89:5 92:4 94:6 98:4 103:4 106:4 110:5 116:5 32:2 41:3 56:3 70:2 86:2 101:3 113:3",
  "103|24:7 25:6 27:4 29:5 31:5 42:5 48:4 50:5 52:5 54:5 58:4 61:6 75:5 79:5 82:6 85:4 90:5 93:4 97:4 101:5 104:5 106:7 109:5 112:4 114:6 116:5 45:3 56:3 67:2 72:2 88:2 99:3 108:4",
  "104|25:6 27:7 29:5 34:8 36:a 38:5 47:5 51:5 54:7 63:6 72:5 84:5 86:6 96:6 98:7 104:5 108:4 110:6 114:6 115:8 41:2 49:3 58:2 68:2 77:2 90:3 101:4 106:3 112:4",
  "105|26:9 27:7 29:7 35:a 36:9 42:5 49:5 51:5 63:6 70:4 81:6 94:6 97:8 100:4 103:7 105:4 108:5 111:5 113:7 115:5 45:2 54:3 66:2 74:2 87:3 91:2 106:3 110:4",
  "106|29:4 30:7778 43:4 46:4 48:5 50:5 52:5 54:5 65:6 76:5 83:6 86:7 96:7 98:9 101:4 103:6 105:6 109:7 111:4 113:5 40:2 57:2 68:2 80:2 90:3 94:3 107:4",
  "107|30:5 37:7 44:4 47:5 49:6 51:5 56:5 75:5 79:5 81:6 85:5 94:5 97:b 99:8 103:7 105:5 107:6 113:5 40:2 53:3 60:2 71:2 88:3 91:3 101:4 109:4 111:4",
  "108|30:4 33:8 35:4 43:5 48:6 50:5 52:5 54:5 56:4 70:9 73:4 76:5 86:4 94:5 97:5 100:6 102:9 106:6 109:7 111:5 38:2 60:2 66:2 79:3 82:3 91:4 104:4",
  "109|31:5 38:5 51:5 54:4 58:5 68:4 72:7 75:8 77:5 97:5 99:6 101:6 103:5 106:8 108:5 110:6 42:2 46:2 61:2 79:3 84:3 88:3 92:3 95:4 105:4",
  "110|29:5 31:6 36:4 43:4 53:6 55:4 62:6 64:5 70:5 74:5 85:5 91:6 93:5 95:5 97:5 101:8 103:a 105:4 107:6 109:4 58:2 68:3 72:3 80:3 83:3 89:4 99:4",
  "111|30:a 34:5 36:8 39:4 41:9 43:6 45:4 47:5 55:6 66:5 71:6 74:4 82:4 85:7 87:4 96:5 98:6 100:4 102:9 103:5 106:4 108:5 58:2 62:2 69:3 77:3 80:3 92:3 104:4",
  "112|31:5 32:a 34:4 36:4 38:9 41:a 44:5 65:4 68:7 76:4 83:6 87:5 94:5 97:8 99:5 101:4 103:6 106:6 47:2 50:2 59:2 62:3 72:3 80:3 90:3 92:3",
  "113|32:5 34:8 36:6 38:5 40:9 42:a 50:5 56:5 64:5 69:9 72:5 82:6 90:5 95:5 97:9 98:5 100:5 102:6 104:5 46:2 53:2 60:3 67:3 75:3 78:3 86:3 88:3 93:4",
  "114|33:7 34:a 36:6 38:9 42:a 61:7 75:7 78:5 82:4 85:6 92:4 96:6 98:9 100:5 103:6 105:5 50:2 54:2 58:2 65:3 69:3 72:3 80:3 88:3 90:3 94:4",
  "115|36:9 38:8 39:b 41:5 44:5 47:4 57:5 60:5 62:6 65:4 76:5 82:4 85:6 87:4 90:4 93:5 96:5 98:5 101:7 103:4 52:2 55:2 67:3 70:3 73:3 79:3 89:4",
  "116|35:8 37:8 38:9 39:b 41:5 44:4 46:4 60:8 64:4 68:5 81:5 84:6 88:4 93:5 95:6 98:6 100:6 54:2 56:3 62:3 70:3 73:3 76:3 79:4 86:4 91:4",
  "117|40:4 42:5 44:5 59:5 63:4 71:8 73:8 75:7 78:4 85:5 87:5 90:4 94:6 96:6 98:5 55:3 57:3 61:3 66:3 68:3 80:4 82:4 92:4",
  "118|43:4 46:5 55:5 58:5 61:4 69:8 71:7 73:7 75:8 77:5 84:6 87:4 90:4 92:5 95:5 53:2 60:3 63:3 66:3 79:4 81:4 86:4 94:4",
  "119|40:6 48:6 50:5 52:9 54:4 56:5 59:5 61:6 63:7 65:5 70:5 73:9 75:5 78:5 81:6 83:5 85:7 88:5 91:5 94:5 97:6 100:5 67:4 80:4 90:4",
  "120|47:4 49:6 51:5 53:6 55:8 57:4 59:5 62:5 64:6 67:6 70:6 72:5 74:4 79:5 82:8 85:5 87:6 89:4 91:5 95:5 76:4 81:4 93:4",
  "121|44:5 49:5 52:7 54:9 56:6 59:6 61:8 64:6 69:6 72:5 78:5 80:5 83:9 85:5 87:6 89:5 92:4 94:5 97:5 66:4 75:4 91:4",
  "122|50:5 52:7 55:7 57:8 60:5 62:9 64:6 66:5 69:6 71:7 73:8 75:5 77:4 80:5 82:6 85:5 88:5 90:5 94:4 97:5",
  "123|48:6 49:5 52:7 55:7 57:9 59:6 61:8 63:5 65:7 67:a 69:4 72:5 74:8 76:7 79:5 82:6 85:6 87:5 89:4 92:4",
  "124|53:5 56:4 58:6 60:6 62:7 64:5 66:8 68:9 70:6 72:8 74:8 76:5 78:6 80:4 82:4 84:b 86:5 88:4 90:4",
  "125|52:4 54:6 57:5 59:7 61:7 63:6 65:5 67:a 69:7 71:8 73:8 75:7 77:6 79:5 81:4 83:5 85:a 87:7 90:5 92:5",
  "126|53:5 56:5 59:6 62:7 64:5 66:9 68:b 70:7 72:8 74:9 76:6 78:7 80:5 83:8 85:8 87:6 89:4",
  "127|56:5 58:6 60:5 62:5 65:6 67:5 69:9 71:8 73:8 75:7 77:6 81:4 83:5",
  "128|59:4 61:5 64:5 66:7 68:8 70:6 72:8 74:7 76:4",
  "129|62:3 64:4 66:6 68:a 70:4 72:8 74:5 76:3 78:3 80:2 82:2",
  "130|66:2 68:4 70:3 73:3 75:2 77:2",
];

const dataRows = [[gazeBase, gazeRows], [rtGeneBase, rtGeneRows], [[], eyeDiapRows]];

function cells(layers: string[][]) {
  const grid = new Map<string, number[]>();
  const w = 140 / BINS;
  const put = (r: number, c: number, v: number) => {
    if (v > 0) grid.set(r + "," + c, [-70 + (c + 0.5) * w, 70 - (r + 0.5) * w, v]);
  };
  layers.forEach((rows) => rows.forEach((line) => {
    const [r, segs] = line.split("|");
    segs.split(" ").filter(Boolean).forEach((seg) => {
      const [c0, levels] = seg.split(":");
      for (let i = 0; i < levels.length; i++) put(+r, +c0 + i, parseInt(levels[i], 36));
    });
  }));
  return Array.from(grid.values());
}

export default function App() {
  const ref = useRef<HTMLDivElement>(null);
  useEffect(() => {
    const chart = echarts.init(ref.current!, null, { renderer: "svg" });
    const axis = (name: string, i: number, isY: boolean) => ({
      type: "value", gridIndex: i, min: -70, max: 70, interval: 70, splitLine: { show: false },
      axisLine: { show: isY, onZero: false, lineStyle: { color: "#666", width: 1 } },
      axisTick: { show: true, length: 3, lineStyle: { color: "#666" } },
      axisLabel: {
        show: true, margin: isY ? 12 : 3, fontFamily: "Liberation Sans", fontSize: 53, color: "#000",
        hideOverlap: false, showMinLabel: true, showMaxLabel: true,
        formatter: (v: number) => (v === 0 ? "" : String(v).replace("-", "\u2212")),
      },
      name, nameLocation: "middle", nameGap: isY ? 18 : 15, nameMoveOverlap: false,
      nameTextStyle: { fontFamily: "Liberation Serif", fontSize: isY ? 95 : 89, color: "#000" },
    });
    chart.setOption({
      animation: false,
      title: titles.map((t, i) => ({ text: t, left: lefts[i] + sizeW / 2 - 4, top: 0, textAlign: "center",
        textStyle: { fontFamily: "Liberation Serif", fontWeight: "bold", fontSize: 103, color: "#000" } })),
      grid: lefts.map((l) => ({ left: l, top, width: sizeW, height: sizeW, show: true, backgroundColor: "#00007f", borderWidth: 0, outerBoundsMode: "none", containLabel: false })),
      xAxis: lefts.map((_, i) => axis("Yaw", i, false)),
      yAxis: lefts.map((_, i) => axis("Pitch", i, true)),
      visualMap: { show: false, min: 0, max: 11, dimension: 2, seriesIndex: [0, 1, 2], inRange: { color: jet } },
      series: dataRows.map((layers, i) => ({
        type: "custom", xAxisIndex: i, yAxisIndex: i, coordinateSystem: "cartesian2d",
        data: cells(layers as string[][]),
        renderItem: (_: any, api: any) => {
          const p = api.coord([api.value(0), api.value(1)]);
          const s = api.size([140 / BINS, 140 / BINS]);
          return { type: "rect", shape: { x: p[0] - s[0] / 2, y: p[1] - s[1] / 2, width: s[0] + 0.3, height: s[1] + 0.3 }, style: { fill: api.visual("color") } };
        },
      })),
    });
    return () => chart.dispose();
  }, []);
  return <div ref={ref} style={{ position: "absolute", left: 0, top: 0, width: 3124, height: 1084, background: "#fff" }} />;
}
